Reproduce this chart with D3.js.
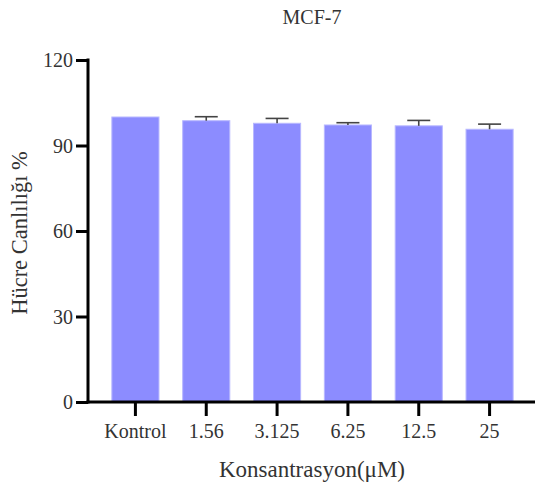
<!DOCTYPE html>
<html><head><meta charset="utf-8">
<script src="https://cdn.jsdelivr.net/npm/d3@7"></script>
<style>body{margin:0;background:#fff}svg{display:block}text{font-family:"Liberation Serif","Times New Roman",serif;fill:#333}</style>
</head><body>
<script>
const categories = ["Kontrol","1.56","3.125","6.25","12.5","25"];
const values = [100, 98.7, 97.8, 97.2, 96.9, 95.7];
const errors = [0, 1.4, 1.7, 0.8, 1.9, 1.8];
const yTicks = [0,30,60,90,120];
const title = "MCF-7", xTitle = "Konsantrasyon(μM)", yTitle = "Hücre Canlılığı %";

const W=536,H=485;
const svg=d3.select("body").append("svg").attr("width",W).attr("height",H);
const x=d3.scaleBand().domain(categories).range([100,525]).paddingInner(0.335).paddingOuter(0.1675);
const y=d3.scaleLinear().domain([0,120]).range([402,60]);

// bars
svg.selectAll("rect.bar").data(categories).join("rect").attr("class","bar")
 .attr("x",d=>x(d)).attr("width",x.bandwidth())
 .attr("y",(d,i)=>y(values[i])).attr("height",(d,i)=>y(0)-y(values[i]))
 .attr("fill","#8c8cff").attr("stroke","#b8b8ff").attr("stroke-width",1);
// error bars
const eb=svg.append("g").attr("stroke","#444").attr("stroke-width",1.6);
categories.forEach((c,i)=>{
  if(!errors[i]) return;
  const cx=x(c)+x.bandwidth()/2;
  eb.append("line").attr("x1",cx).attr("x2",cx).attr("y1",y(values[i])).attr("y2",y(values[i]+errors[i]));
  eb.append("line").attr("x1",cx-11.5).attr("x2",cx+11.5).attr("y1",y(values[i]+errors[i])).attr("y2",y(values[i]+errors[i]));
});

// y axis
const ya=svg.append("g").attr("transform","translate(88,0)")
 .call(d3.axisLeft(y).tickValues(yTicks).tickSize(12).tickSizeOuter(0).tickPadding(3));
ya.select(".domain").attr("stroke","#000").attr("stroke-width",3).attr("d","M0,58.5V403.5");
ya.selectAll(".tick line").attr("stroke","#000").attr("stroke-width",3);
ya.selectAll(".tick text").attr("font-size",20).attr("fill","#333").attr("dy","0.34em");

// x axis
const xa=svg.append("g").attr("transform","translate(0,402)")
 .call(d3.axisBottom(x).tickSize(14).tickSizeOuter(0).tickPadding(8));
xa.select(".domain").attr("stroke","#000").attr("stroke-width",3).attr("d","M86.5,0H535");
xa.selectAll(".tick line").attr("stroke","#000").attr("stroke-width",3);
xa.selectAll(".tick text").attr("font-size",20).attr("fill","#333");

svg.append("text").attr("x",312).attr("y",24).attr("text-anchor","middle").attr("font-size",20).text(title);
svg.append("text").attr("x",312).attr("y",477).attr("text-anchor","middle").attr("font-size",23).text(xTitle);
svg.append("text").attr("transform","translate(27,233) rotate(-90)").attr("text-anchor","middle").attr("font-size",22.5).text(yTitle);
</script>
</body></html>
